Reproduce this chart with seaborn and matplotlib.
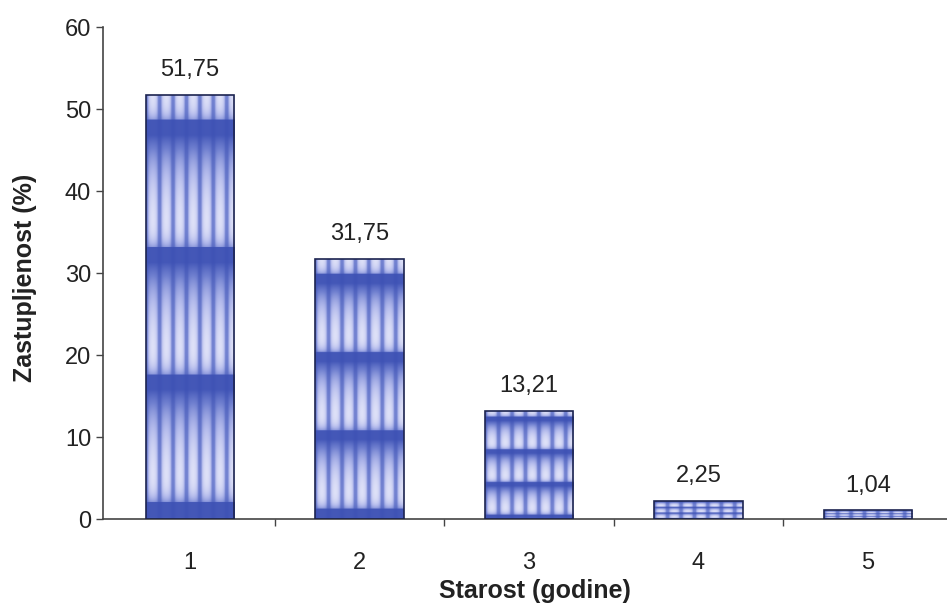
import numpy as np
import matplotlib
matplotlib.use("Agg")
import matplotlib.pyplot as plt
import seaborn as sns
from matplotlib.colors import LinearSegmentedColormap
from matplotlib.ticker import FixedLocator

ages = ["1", "2", "3", "4", "5"]
shares = [51.75, 31.75, 13.21, 2.25, 1.04]
share_labels = ["51,75", "31,75", "13,21", "2,25", "1,04"]
y_ticks = [0, 10, 20, 30, 40, 50, 60]

sns.set_style("white")
plt.rcParams["font.family"] = ["Liberation Sans", "DejaVu Sans"]

fig = plt.figure(figsize=(9.47, 6.03), dpi=100)
ax = fig.add_axes([103 / 947, 84 / 603, 844 / 947, 492 / 603])

sns.barplot(x=ages, y=shares, ax=ax, width=0.52, color="white",
            edgecolor="#1c2450", linewidth=1.2, zorder=3)

# bar texture: blue vertical stripes + horizontal gradient bands
cmap = LinearSegmentedColormap.from_list(
    "tex", ["#f6f6fe", "#b4bbec", "#6f7fcf", "#3d51b4"])
ny, nx = 400, 200
u = np.linspace(0, 1, nx)
v = np.linspace(0, 1, ny)[:, None]  # 0 = top of bar
sp = (u * 6.6) % 1.0
sd = np.minimum(np.abs(sp - 0.5), 1 - np.abs(sp - 0.5))
stripe = np.exp(-((0.5 - sd) / 0.12) ** 2) + 0.5 * np.exp(-((0.5 - sd) / 0.25) ** 2)
stripe = np.clip(stripe, 0, 1)[None, :]
ph = ((v - 0.06) / 0.3) % 1.0
band = np.where(ph < 0.12, 1.0, np.exp(-(ph - 0.12) * 3.5))
band = band + 0.5 * np.exp(-(1 - ph) * 14.0)
band = np.clip(band, 0, 1)
tex = 1 - (1 - 0.95 * band) * (1 - 0.6 * stripe)

for patch in ax.patches:
    patch.set_facecolor("none")
    x0, y0 = patch.get_x(), patch.get_y()
    w, h = patch.get_width(), patch.get_height()
    im = ax.imshow(tex, cmap=cmap, vmin=0, vmax=1, aspect="auto",
                   extent=(x0, x0 + w, y0, y0 + h), origin="upper",
                   interpolation="bilinear", zorder=2)
    im.set_clip_path(patch)

for i, (val, lab) in enumerate(zip(shares, share_labels)):
    ax.annotate(lab, (i, val), xytext=(0, 10), textcoords="offset points",
                ha="center", va="bottom", fontsize=17, color="#222222")

ax.set_xlim(-0.513, 4.466)
ax.set_ylim(0, 60)
ax.set_yticks(y_ticks)
ax.xaxis.set_minor_locator(FixedLocator([0.5, 1.5, 2.5, 3.5]))
ax.tick_params(axis="x", which="major", length=0, pad=24, labelsize=17,
               labelcolor="#222222")
ax.tick_params(axis="x", which="minor", length=5, width=1, color="#444444",
               bottom=True, direction="out")
ax.tick_params(axis="y", length=5, width=1, color="#444444", left=True,
               direction="out", labelsize=17, labelcolor="#222222")

sns.despine(ax=ax, top=True, right=True)
for s in ["left", "bottom"]:
    ax.spines[s].set_color("#444444")
    ax.spines[s].set_linewidth(1.2)

ax.set_ylabel("Zastupljenost (%)", fontsize=18, fontweight="bold",
              color="#222222")
ax.yaxis.set_label_coords(-0.078, 0.49)
ax.set_xlabel("Starost (godine)", fontsize=18, fontweight="bold",
              color="#222222")
ax.xaxis.set_label_coords(0.512, -0.122)

fig.savefig("out.png", dpi=100)
